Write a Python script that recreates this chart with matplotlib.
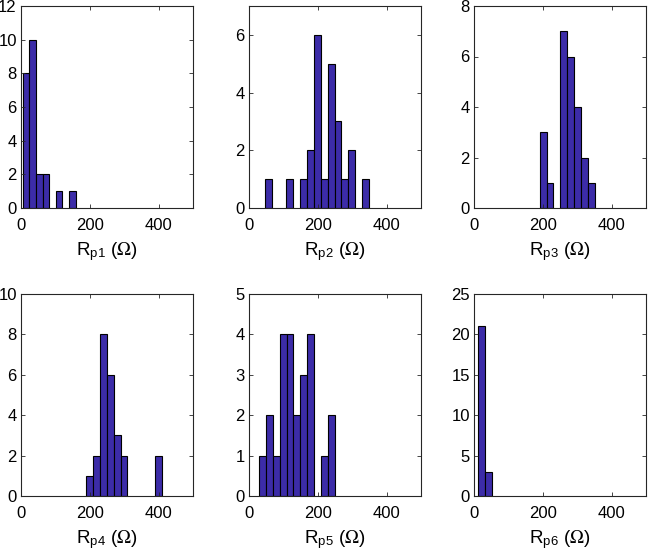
import numpy as np
import matplotlib
matplotlib.use("Agg")
import matplotlib.pyplot as plt

plt.rcParams['font.family'] = ['Liberation Sans', 'DejaVu Sans']
plt.rcParams['mathtext.fontset'] = 'stix'

# Bin edges (Ohm) and counts for each histogram
edges_p1 = [5, 24.2, 43.4, 62.6, 81.8, 101, 120.2, 139.4, 158.6]
counts_p1 = [8, 10, 2, 2, 0, 1, 0, 1]

edges_p2 = [46.6, 66.8, 87, 107.2, 127.4, 147.6, 167.8, 188, 208.2, 228.4,
            248.6, 268.8, 289, 309.2, 329.4, 349.6]
counts_p2 = [1, 0, 0, 1, 0, 1, 2, 6, 1, 5, 3, 1, 2, 0, 1]

edges_p3 = [190.8, 210.9, 231, 251.1, 271.2, 291.3, 311.4, 331.5, 351.6]
counts_p3 = [3, 1, 0, 7, 6, 4, 2, 1]

edges_p4 = [189.5, 209.5, 229.5, 249.5, 269.5, 289.5, 309.5, 329.5, 349.5,
            369.5, 389.5, 409.5]
counts_p4 = [1, 2, 8, 6, 3, 2, 0, 0, 0, 0, 2]

edges_p5 = [29, 49, 69, 89.2, 109.2, 129.3, 149.3, 169.4, 189.4, 209.5,
            229.5, 249.6]
counts_p5 = [1, 2, 1, 4, 4, 2, 3, 4, 0, 1, 2]

edges_p6 = [12.5, 32.5, 52.5]
counts_p6 = [21, 3]

labels = ['p1', 'p2', 'p3', 'p4', 'p5', 'p6']
ylims = [12, 7, 8, 10, 5, 25]
yticks = [np.arange(0, 13, 2), np.arange(0, 7, 2), np.arange(0, 9, 2),
          np.arange(0, 11, 2), np.arange(0, 6, 1), np.arange(0, 26, 5)]
xticks = [0, 200, 400]

all_edges = [edges_p1, edges_p2, edges_p3, edges_p4, edges_p5, edges_p6]
all_counts = [counts_p1, counts_p2, counts_p3, counts_p4, counts_p5, counts_p6]

fig = plt.figure(figsize=(6.49, 5.52), dpi=100)
W, H = 649, 552
lefts = [21, 249, 474]
tops = [6, 294]
aw, ah = 172, 202

bar_color = '#3c2ca8'
spine_color = '#262626'

for i in range(6):
    r, c = divmod(i, 3)
    ax = fig.add_axes([lefts[c] / W, 1 - (tops[r] + ah) / H, aw / W, ah / H])
    e = np.array(all_edges[i])
    cnt = np.array(all_counts[i])
    mask = cnt > 0
    ax.bar(e[:-1][mask], cnt[mask], width=np.diff(e)[mask], align='edge',
           color=bar_color, edgecolor='black', linewidth=0.8)
    ax.set_xlim(0, 500)
    ax.set_ylim(0, ylims[i])
    ax.set_xticks(xticks)
    ax.set_yticks(yticks[i])
    ax.tick_params(direction='in', top=True, right=True, labelsize=12,
                   length=3, width=0.6, color=spine_color)
    ax.tick_params(axis='x', pad=7)
    ax.tick_params(axis='y', pad=3)
    for s in ax.spines.values():
        s.set_color(spine_color)
        s.set_linewidth(0.8)
    ax.set_xlabel(r'R$_{\mathregular{%s}}$ ($\Omega$)' % labels[i],
                  fontsize=13.5, labelpad=5)

fig.savefig('out.png', dpi=100)
